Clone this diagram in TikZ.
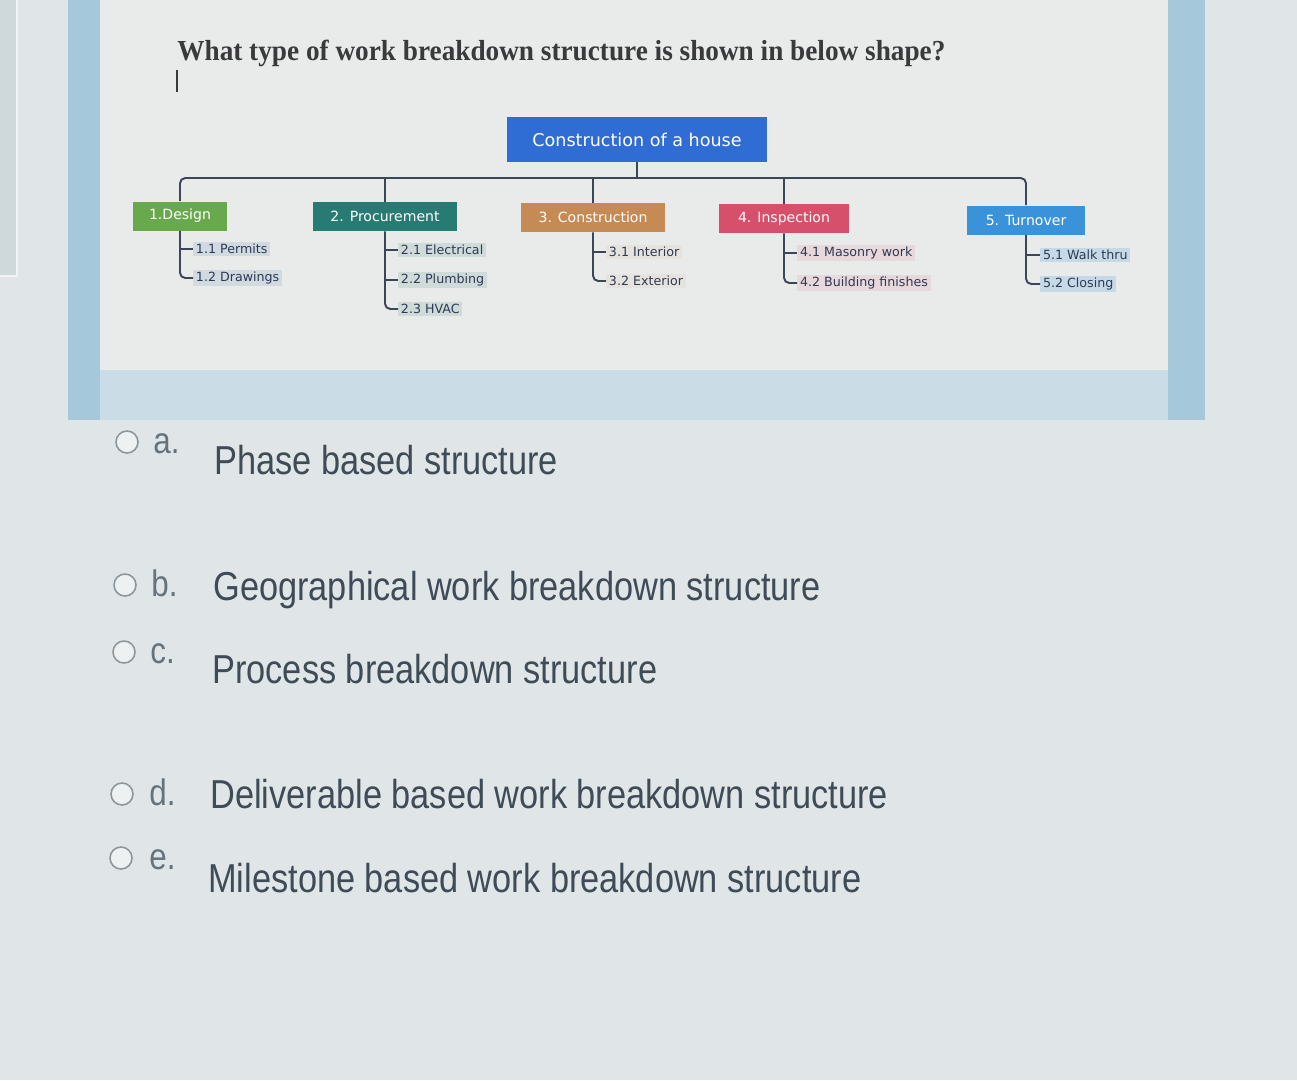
\documentclass[tikz,border=0pt]{standalone}
\usepackage{fontspec}
\setmainfont{Liberation Sans}
\newfontfamily\qfont[FakeStretch=0.94]{Liberation Serif}
\newfontfamily\optfont[FakeStretch=0.85]{Liberation Sans}
\newfontfamily\wbsfont{DejaVu Sans}
\usetikzlibrary{positioning}
\definecolor{bgclr}{HTML}{E0E6E7}
\definecolor{barclr}{HTML}{A6C8DB}
\definecolor{bandclr}{HTML}{CADCE5}
\definecolor{sheetclr}{HTML}{E9EBEA}
\definecolor{sideclr}{HTML}{CFD8DB}
\definecolor{rootclr}{HTML}{2F6DD4}
\definecolor{designclr}{HTML}{68A94E}
\definecolor{procureclr}{HTML}{287B72}
\definecolor{constrclr}{HTML}{C68B55}
\definecolor{inspectclr}{HTML}{D6506B}
\definecolor{turnoverclr}{HTML}{3A93D8}
\definecolor{linkclr}{HTML}{3C4658}
\definecolor{itemclr}{HTML}{2E3A55}
\definecolor{itembg}{HTML}{D0DAE0}
\definecolor{questclr}{HTML}{3A3A3C}
\definecolor{answerclr}{HTML}{3F4B56}
\definecolor{letterclr}{HTML}{66737D}
\definecolor{radioclr}{HTML}{8C969C}
\definecolor{radiofill}{HTML}{EEF1F1}

\begin{document}
\begin{tikzpicture}[x=0.02cm,y=-0.02cm,
  phase/.style={minimum height=0.58cm,inner sep=0pt,text=white,font=\wbsfont\fontsize{8}{9}\selectfont},
  item/.style={anchor=west,inner xsep=1.5pt,inner ysep=1pt,text=itemclr,font=\wbsfont\fontsize{7.2}{8}\selectfont},
  link/.style={draw=linkclr,line width=1.1pt,rounded corners=3pt},
  radio/.style={circle,draw=radioclr,fill=radiofill,line width=0.9pt,minimum size=0.44cm,inner sep=0pt},
  answer/.style={anchor=base west,inner sep=0pt,text=answerclr,font=\optfont\fontsize{23}{26}\selectfont},
  letter/.style={anchor=base west,inner sep=0pt,text=letterclr,font=\optfont\fontsize{21}{24}\selectfont}]
\useasboundingbox (0,0) rectangle (1297,1080);

% screen background
\fill[bgclr] (0,0) rectangle (1297,1080);
\fill[sideclr] (0,0) rectangle (17,276);
\draw[white!70!sideclr,line width=1pt] (17,0) -- (17,276) -- (0,276);
\fill[barclr] (68,0) rectangle (1205,420);
\fill[bandclr] (100,370) rectangle (1168,420);
\fill[sheetclr] (100,0) rectangle (1168,370);

% question
\node[anchor=base west,inner sep=0pt,text=questclr,font=\qfont\bfseries\fontsize{16.5}{19}\selectfont] (quest) at (177,60)
  {What type of work breakdown structure is shown in below shape?};
\draw[questclr,line width=0.8pt] (177,70) -- (177,92);

% work breakdown structure
\coordinate (bar) at (0,178);
\node[phase,fill=rootclr,minimum width=5.2cm,minimum height=0.9cm,font=\wbsfont\fontsize{10}{12}\selectfont] (root) at (637,139.5) {Construction of a house};
\node[phase,fill=designclr,minimum width=1.9cm] (design) at (180,216) {1.Design};
\node[phase,fill=procureclr,minimum width=2.9cm] (procure) at (385,216.5) {2. Procurement};
\node[phase,fill=constrclr,minimum width=2.88cm] (constr) at (593,217.5) {3. Construction};
\node[phase,fill=inspectclr,minimum width=2.6cm] (inspect) at (784,218.5) {4. Inspection};
\node[phase,fill=turnoverclr,minimum width=2.36cm] (turnover) at (1026,220) {5. Turnover};

\node[item,fill=itembg] (d1) at (193,249) {1.1 Permits};
\node[item,fill=itembg] (d2) at (193,278) {1.2 Drawings};
\node[item,fill=procureclr!14!sheetclr] (p1) at (398,250) {2.1 Electrical};
\node[item,fill=procureclr!14!sheetclr] (p2) at (398,280) {2.2 Plumbing};
\node[item,fill=procureclr!14!sheetclr] (p3) at (398,309) {2.3 HVAC};
\node[item,fill=constrclr!8!sheetclr] (c1) at (606,252) {3.1 Interior};
\node[item,fill=constrclr!8!sheetclr] (c2) at (606,281) {3.2 Exterior};
\node[item,fill=inspectclr!12!sheetclr] (i1) at (797,253) {4.1 Masonry work};
\node[item,fill=inspectclr!12!sheetclr] (i2) at (797,283) {4.2 Building finishes};
\node[item,fill=turnoverclr!20!sheetclr] (t1) at (1040,255) {5.1 Walk thru};
\node[item,fill=turnoverclr!20!sheetclr] (t2) at (1040,284) {5.2 Closing};

\draw[link] (root.south) -- (root.south |- bar);
\draw[link] (design.north) |- (turnover.north |- bar) -- (turnover.north);
\draw[link] (procure.north) -- (procure.north |- bar);
\draw[link] (constr.north) -- (constr.north |- bar);
\draw[link] (inspect.north) -- (inspect.north |- bar);

\draw[link] (design.south) |- (d2.west);
\draw[link] (design.south |- d1.west) -- (d1.west);
\draw[link] (procure.south) |- (p3.west);
\draw[link] (procure.south |- p1.west) -- (p1.west);
\draw[link] (procure.south |- p2.west) -- (p2.west);
\draw[link] (constr.south) |- (c2.west);
\draw[link] (constr.south |- c1.west) -- (c1.west);
\draw[link] (inspect.south) |- (i2.west);
\draw[link] (inspect.south |- i1.west) -- (i1.west);
\draw[link] (turnover.south) |- (t2.west);
\draw[link] (turnover.south |- t1.west) -- (t1.west);

% answer choices
\node[radio] (ra) at (127,442) {};
\node[letter] (la) at (153,453) {a.};
\node[answer] (opta) at (214,474) {Phase based structure};
\node[radio] (rb) at (125,585) {};
\node[letter] (lb) at (151,596) {b.};
\node[answer] (optb) at (213,600) {Geographical work breakdown structure};
\node[radio] (rc) at (124,652) {};
\node[letter] (lc) at (150,663) {c.};
\node[answer] (optc) at (212,683) {Process breakdown structure};
\node[radio] (rd) at (122,794) {};
\node[letter] (ld) at (149,805) {d.};
\node[answer] (optd) at (210,808) {Deliverable based work breakdown structure};
\node[radio] (re) at (121,858) {};
\node[letter] (le) at (149,869) {e.};
\node[answer] (opte) at (208,892) {Milestone based work breakdown structure};
\end{tikzpicture}
\end{document}
